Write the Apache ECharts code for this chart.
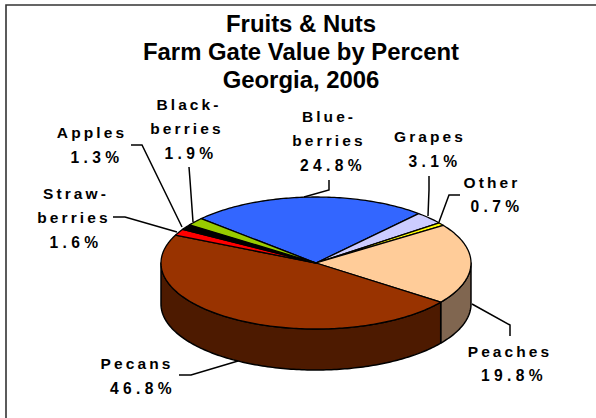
<!DOCTYPE html>
<html><head><meta charset="utf-8">
<style>
html,body{margin:0;padding:0;background:#fff}
#c{width:596px;height:418px}
#c text[style*="15.5px"]{letter-spacing:3.1px}
#c text[style*="15.6px"]{letter-spacing:4.4px}
</style>
<script src="https://cdn.jsdelivr.net/npm/echarts@6/dist/echarts.min.js"></script>
</head><body><div id="c"></div>
<script>
const titleLines = ['Fruits & Nuts','Farm Gate Value by Percent','Georgia, 2006'];
const categories = ['Blueberries','Grapes','Other','Peaches','Pecans','Strawberries','Apples','Blackberries'];
const nameLines = [['Blue-','berries'],['Grapes'],['Other'],['Peaches'],['Pecans'],['Straw-','berries'],['Apples'],['Black-','berries']];
const values = [24.8,3.1,0.7,19.8,46.8,1.6,1.3,1.9];
const topColors = ['#3366FF','#CCCCFF','#FFFF00','#FFCC99','#993300','#FF0000','#000000','#99CC00'];
const sideColors = ['#1A3380','#666680','#808000','#806650','#4D1A00','#800000','#000000','#4D6600'];

// layout of the drawing (not data)
const pie = {cx:316, cy:263, rx:155, ry:66, depth:41, startDeg:312.2};
// [x, y] for each text line of each label
const labelPos = [
 [[329,116],[329,140],[333,165]],
 [[430,136],[435,161]],
 [[492,182],[497,206]],
 [[510,351],[514,375]],
 [[137,363],[143,388]],
 [[76,193],[74,217],[76,242]],
 [[92,132],[97,157]],
 [[189,104],[187,128],[191,153]]
];
// leader polyline: from the label to the elbow(s); the final point lies on the slice edge
const leaders = [
 [[329,180],[329,190],[304,197]],
 [[429,176],[429,190],[428,216]],
 [[460,195],[449,195],[439,222]],
 [[510,336],[510,325],[472,304]],
 [[179,375],[191,375],[238,361]],
 [[113,217],[125,217],[177,232]],
 [[131,145],[142,145],[182,227]],
 [[189,167],[190,180],[193,222]]
];

const total = values.reduce((a,b)=>a+b,0);
const cum = values.reduce((acc,v)=>{acc.push(acc[acc.length-1]+v);return acc;},[0]);
const toDeg = v => echarts.number.linearMap(v,[0,total],[pie.startDeg,pie.startDeg+360]);
const pt = (deg,dy) => {const r=deg*Math.PI/180;return [pie.cx+pie.rx*Math.sin(r),pie.cy-pie.ry*Math.cos(r)+(dy||0)];};
function arc(a,b,dy){const n=Math.max(2,Math.ceil(Math.abs(b-a)));const o=[];for(let i=0;i<=n;i++)o.push(pt(a+(b-a)*i/n,dy));return o;}

function renderItem(params,api){
  const i=params.dataIndex;
  const a=toDeg(api.value(0)), b=toDeg(api.value(0)+api.value(1));
  const children=[];
  // wall: visible part of the rim is between 90 and 270 degrees
  for(const k of [0,360]){
    const s=Math.max(a,90+k), e=Math.min(b,270+k);
    if(e>s){
      children.push({type:'polygon',z2:1,shape:{points:arc(s,e,0).concat(arc(e,s,pie.depth))},
        style:{fill:sideColors[i],stroke:'#000',lineWidth:1.5,lineJoin:'round'}});
    }
  }
  children.push({type:'polygon',z2:2,shape:{points:[[pie.cx,pie.cy]].concat(arc(a,b,0))},
    style:{fill:topColors[i],stroke:'#000',lineWidth:1.3,lineJoin:'round'}});
  children.push({type:'polyline',z2:3,shape:{points:leaders[i]},style:{fill:'none',stroke:'#000',lineWidth:1.5}});
  const lines=nameLines[i].concat([values[i].toFixed(1)+'%']);
  lines.forEach((t,j)=>{
    children.push({type:'text',z2:4,x:labelPos[i][j][0],y:labelPos[i][j][1],
      style:{text:t,align:'center',verticalAlign:'middle',fill:'#000',
        font:'bold '+(j===lines.length-1?'15.6':'15.5')+'px "Liberation Sans"'}});
  });
  return {type:'group',children};
}

const chart=echarts.init(document.getElementById('c'),null,{renderer:'svg',width:596,height:418});
chart.setOption({
  animation:false,
  backgroundColor:'#fff',
  title:{text:titleLines.join('\n'),left:296,top:4,textAlign:'center',
    textStyle:{fontFamily:'Liberation Sans',fontWeight:'bold',fontSize:23.9,lineHeight:28,color:'#000'}},
  graphic:[{type:'polyline',shape:{points:[[6,420],[6,5],[598,5]]},style:{fill:'none',stroke:'#333',lineWidth:1.6}}],
  series:[{type:'custom',coordinateSystem:'none',renderItem,silent:true,
    data:categories.map((c,i)=>({name:c,value:[cum[i],values[i]]}))}]
});
</script></body></html>
